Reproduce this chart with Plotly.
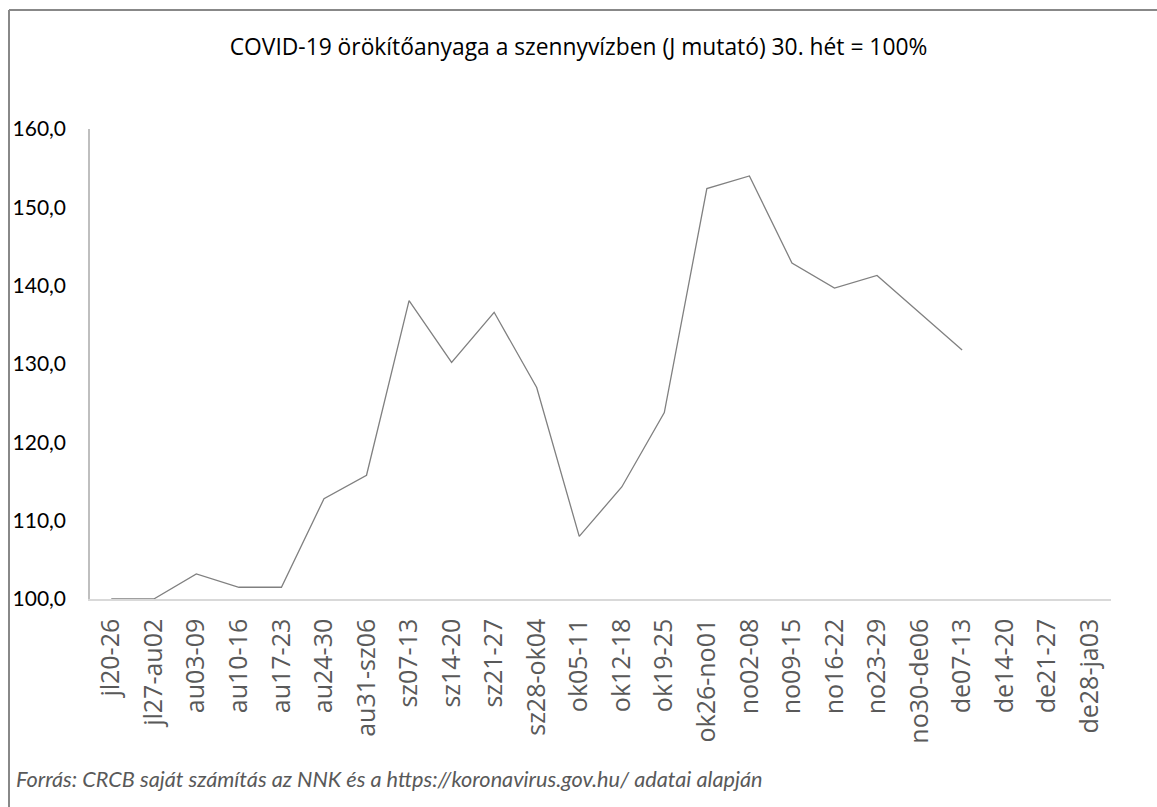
import plotly.graph_objects as go

weeks = ["jl20-26", "jl27-au02", "au03-09", "au10-16", "au17-23", "au24-30", "au31-sz06",
         "sz07-13", "sz14-20", "sz21-27", "sz28-ok04", "ok05-11", "ok12-18", "ok19-25",
         "ok26-no01", "no02-08", "no09-15", "no16-22", "no23-29", "no30-de06", "de07-13",
         "de14-20", "de21-27", "de28-ja03"]
j_index = [100.0, 100.0, 103.2, 101.5, 101.5, 112.8, 115.8,
           138.1, 130.2, 136.6, 127.0, 108.0, 114.3, 123.8,
           152.4, 154.0, 142.9, 139.7, 141.3, 136.5, 131.8,
           None, None, None]
y_ticks = [100, 110, 120, 130, 140, 150, 160]
y_tick_text = ["100,0", "110,0", "120,0", "130,0", "140,0", "150,0", "160,0"]

title_text = "COVID-19 örökítőanyaga a szennyvízben (J mutató) 30. hét = 100%"
source_text = "Forrás: CRCB saját számítás az NNK és a https://koronavirus.gov.hu/ adatai alapján"

W, H = 1157, 807
L, R, T, B = 90, 46, 129, 208
PW, PH = W - L - R, H - T - B

fig = go.Figure()
fig.add_trace(go.Scatter(x=weeks, y=j_index, mode="lines",
                         line=dict(color="#808080", width=1.3),
                         connectgaps=False, showlegend=False))

border = dict(color="#888888", width=2)
fig.update_layout(
    width=W, height=H,
    margin=dict(l=L, r=R, t=T, b=B, autoexpand=False),
    paper_bgcolor="white", plot_bgcolor="white",
    font=dict(family="Lato", size=21, color="#000000"),
    title=dict(text=title_text, x=0.5, xanchor="center", xref="container",
               y=1 - 47/H, yanchor="middle", yref="container",
               font=dict(family="Open Sans", size=22.8, color="#000000")),
    xaxis=dict(type="category", categoryorder="array", categoryarray=weeks,
               range=[-0.5, 23.5], tickangle=-90, showgrid=False,
               showline=True, linecolor="#d9d9d9", linewidth=1.5,
               ticks="", ticklabelstandoff=8, automargin=False,
               tickfont=dict(family="Open Sans", size=25, color="#595959"),
               zeroline=False),
    yaxis=dict(range=[100, 160], tickvals=y_ticks, ticktext=y_tick_text,
               showgrid=False, showline=True, linecolor="#bfbfbf", linewidth=1.5,
               ticks="", ticklabelstandoff=18, zeroline=False, automargin=False,
               tickfont=dict(family="Lato", size=21, color="#000000")),
    shapes=[
        dict(type="line", xref="paper", yref="paper",
             x0=-(L - 9)/PW, x1=(W - L + 4)/PW, y0=1 + (T - 10)/PH, y1=1 + (T - 10)/PH,
             line=border, layer="below"),
        dict(type="line", xref="paper", yref="paper",
             x0=-(L - 9)/PW, x1=-(L - 9)/PW, y0=1 + (T - 10)/PH, y1=-(B + 4)/PH,
             line=border, layer="below"),
    ],
    annotations=[dict(text=source_text, xref="paper", yref="paper",
                      x=-(L - 14)/PW, y=-(779 - (H - B))/PH, xanchor="left", yanchor="middle",
                      showarrow=False,
                      font=dict(family="Lato", size=21.7, color="#595959", style="italic"))],
)

fig.write_html("out.html", config={"displayModeBar": False},
               post_script="document.body.style.margin='0';document.body.style.overflow='hidden';")
